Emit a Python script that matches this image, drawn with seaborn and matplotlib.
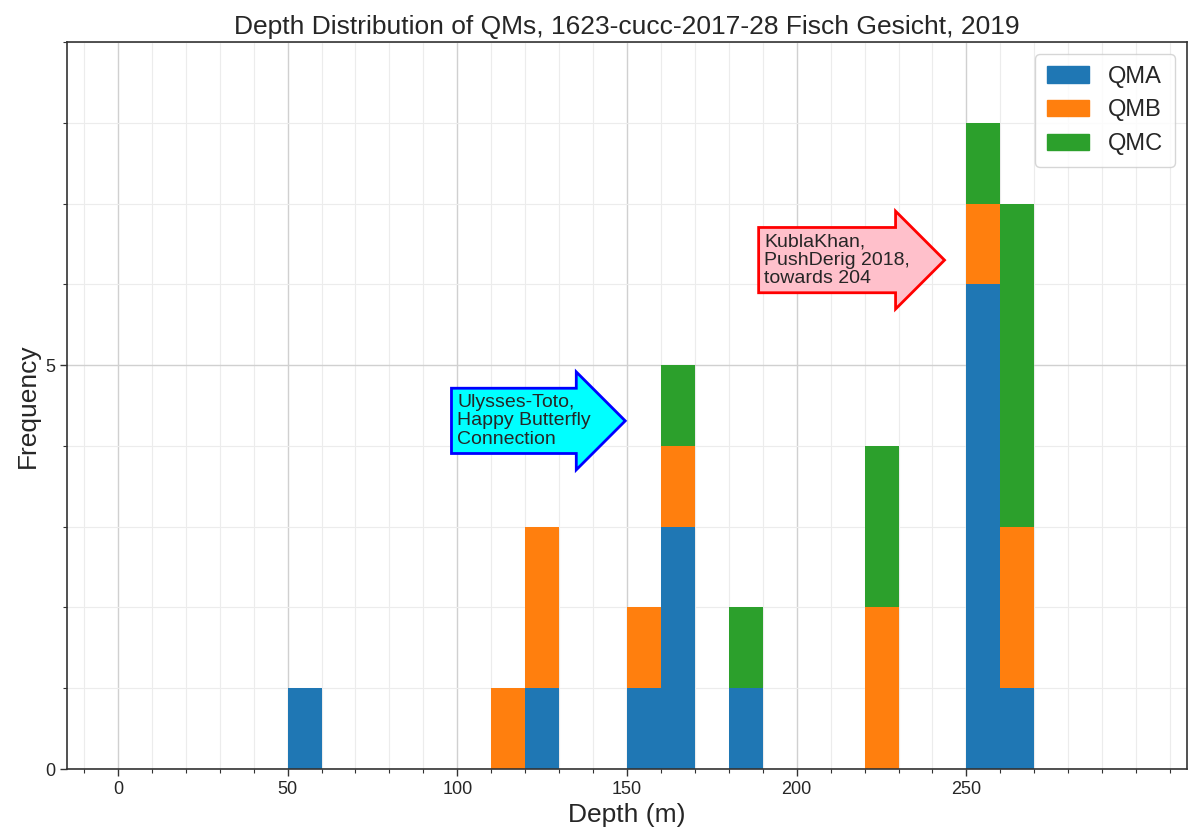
import numpy as np
import pandas as pd
import matplotlib
matplotlib.use("Agg")
import matplotlib.pyplot as plt
from matplotlib.patches import Patch
from matplotlib.ticker import MultipleLocator
import seaborn as sns

# depths (m) of each QM (one value per QM, bin width 10 m)
qma_depths = [55, 125, 155, 165, 165, 165, 185, 255, 255, 255, 255, 255, 255, 265]
qmb_depths = [115, 125, 125, 155, 165, 225, 225, 255, 265, 265]
qmc_depths = [165, 185, 225, 225, 255, 265, 265, 265, 265]

grades = ["QMA", "QMB", "QMC"]
colours = {"QMA": "#1f77b4", "QMB": "#ff7f0e", "QMC": "#2ca02c"}
bin_edges = np.arange(0, 281, 10)

df = pd.concat([
    pd.DataFrame({"depth": qma_depths, "grade": "QMA"}),
    pd.DataFrame({"depth": qmb_depths, "grade": "QMB"}),
    pd.DataFrame({"depth": qmc_depths, "grade": "QMC"}),
])

sns.set_style("whitegrid")
plt.rcParams['font.family'] = ['Liberation Sans', 'DejaVu Sans']

fig = plt.figure(figsize=(11.9, 8.32), dpi=100)
ax = fig.add_axes([0.0563, 0.0757, 0.9412, 0.8738])

# seaborn stacks the first hue level on top, so reverse the order
sns.histplot(data=df, x="depth", hue="grade", hue_order=grades[::-1],
             palette=colours, bins=bin_edges, multiple="stack",
             alpha=1, linewidth=0, legend=False, ax=ax)

ax.set_xlim(-15, 315)
ax.set_ylim(0, 9)
ax.set_xticks(np.arange(0, 251, 50))
ax.xaxis.set_minor_locator(MultipleLocator(10))
ax.yaxis.set_major_locator(MultipleLocator(5))
ax.yaxis.set_minor_locator(MultipleLocator(1))
ax.grid(which="major", color="#d0d0d0", lw=1)
ax.grid(which="minor", color="#ececec", lw=0.8)
ax.set_axisbelow(True)
for s in ax.spines.values():
    s.set_color("#333333")
    s.set_linewidth(1.2)
ax.tick_params(which="major", direction="out", length=5, width=1, color="#333333",
               labelsize=13, bottom=True, left=True)
ax.tick_params(which="minor", direction="out", length=3, width=0.8, color="#333333",
               bottom=True, left=True)

ax.set_title("Depth Distribution of QMs, 1623-cucc-2017-28 Fisch Gesicht, 2019",
             fontsize=19)
ax.set_xlabel("Depth (m)", fontsize=19)
ax.set_ylabel("Frequency", fontsize=19)

handles = [Patch(color=colours[g], label=g) for g in grades]
ax.legend(handles=handles, loc="upper right", fontsize=17, frameon=True,
          handlelength=1.8, borderpad=0.5)

ax.text(100, 4.31, "Ulysses-Toto,\nHappy Butterfly\nConnection", fontsize=14,
        va="center", ha="left", linespacing=1.1,
        bbox=dict(boxstyle="rarrow,pad=0.3", fc="cyan", ec="b", lw=2))
ax.text(190.5, 6.3, "KublaKhan,\nPushDerig 2018,\ntowards 204", fontsize=14,
        va="center", ha="left", linespacing=1.1,
        bbox=dict(boxstyle="rarrow,pad=0.3", fc="pink", ec="r", lw=2))

plt.savefig("out.png", dpi=100)
